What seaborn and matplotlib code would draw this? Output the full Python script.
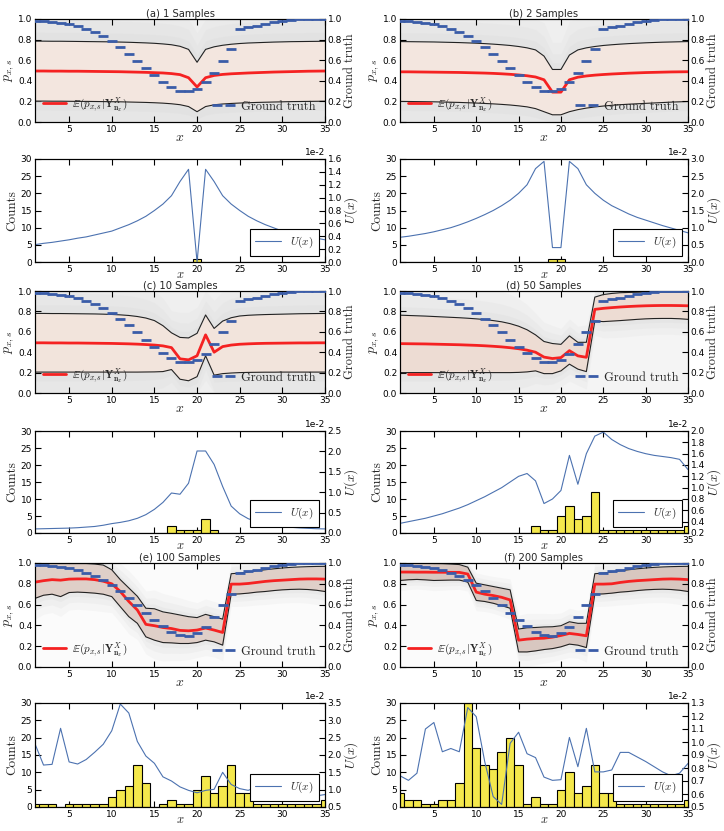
import numpy as np
import matplotlib
matplotlib.use('Agg')
import matplotlib.pyplot as plt
from matplotlib.ticker import MultipleLocator, FormatStrFormatter
from matplotlib.lines import Line2D
import seaborn as sns

xs = np.arange(1, 36)

ground_truth = [0.98, 0.98, 0.97, 0.965, 0.95, 0.93, 0.905, 0.875, 0.835, 0.785,
                0.73, 0.665, 0.595, 0.52, 0.455, 0.39, 0.34, 0.305, 0.30, 0.325,
                0.385, 0.48, 0.595, 0.705, 0.905, 0.92, 0.935, 0.95, 0.97, 0.985,
                0.99, 1.0, 1.0, 1.0, 1.0]

titles = ['(a) 1 Samples', '(b) 2 Samples', '(c) 10 Samples',
          '(d) 50 Samples', '(e) 100 Samples', '(f) 200 Samples']

# ---- panel (a)
mean_a = [0.495, 0.495, 0.494, 0.494, 0.493, 0.493, 0.492, 0.491, 0.49, 0.489, 0.488, 0.486, 0.484, 0.482, 0.479,
          0.476, 0.47, 0.46, 0.43, 0.34, 0.43, 0.452, 0.462, 0.468, 0.472, 0.476, 0.479, 0.482, 0.485, 0.487,
          0.489, 0.491, 0.493, 0.494, 0.495]
upper_a = [0.785, 0.785, 0.784, 0.784, 0.783, 0.782, 0.781, 0.78, 0.779, 0.778, 0.776, 0.774, 0.771, 0.768, 0.764,
           0.758, 0.75, 0.735, 0.705, 0.58, 0.705, 0.73, 0.745, 0.755, 0.762, 0.767, 0.77, 0.773, 0.776, 0.778,
           0.78, 0.781, 0.782, 0.783, 0.784]
lower_a = [0.203, 0.203, 0.202, 0.202, 0.201, 0.2, 0.2, 0.199, 0.198, 0.197, 0.196, 0.194, 0.192, 0.19, 0.187,
           0.183, 0.177, 0.168, 0.15, 0.1, 0.15, 0.167, 0.175, 0.18, 0.184, 0.187, 0.19, 0.192, 0.194, 0.196,
           0.198, 0.199, 0.2, 0.201, 0.202]
counts_a = [0] * 19 + [1] + [0] * 15
u_a = [0.27, 0.29, 0.305, 0.325, 0.345, 0.37, 0.39, 0.42, 0.45, 0.48, 0.53, 0.58, 0.64, 0.71, 0.8,
       0.9, 1.03, 1.25, 1.44, 0.0, 1.44, 1.25, 1.03, 0.9, 0.8, 0.71, 0.64, 0.58, 0.53, 0.48,
       0.45, 0.42, 0.39, 0.37, 0.345]

# ---- panel (b)
mean_b = [0.487, 0.487, 0.486, 0.485, 0.484, 0.483, 0.482, 0.481, 0.479, 0.477, 0.475, 0.472, 0.468, 0.463, 0.457,
          0.449, 0.437, 0.41, 0.29, 0.29, 0.41, 0.435, 0.447, 0.455, 0.461, 0.466, 0.47, 0.474, 0.477, 0.48,
          0.482, 0.484, 0.486, 0.487, 0.488]
upper_b = [0.781, 0.78, 0.779, 0.778, 0.777, 0.775, 0.773, 0.771, 0.768, 0.765, 0.761, 0.756, 0.75, 0.743, 0.733,
           0.72, 0.7, 0.64, 0.51, 0.51, 0.65, 0.7, 0.72, 0.733, 0.743, 0.75, 0.756, 0.761, 0.765, 0.769,
           0.772, 0.775, 0.777, 0.779, 0.781]
lower_b = [0.2, 0.199, 0.198, 0.197, 0.196, 0.194, 0.192, 0.19, 0.187, 0.184, 0.18, 0.176, 0.171, 0.165, 0.157,
           0.147, 0.13, 0.1, 0.07, 0.07, 0.1, 0.12, 0.135, 0.146, 0.155, 0.162, 0.168, 0.173, 0.177, 0.181,
           0.185, 0.189, 0.193, 0.196, 0.199]
counts_b = [0] * 18 + [1, 1] + [0] * 15
u_b = [0.72, 0.75, 0.79, 0.83, 0.88, 0.94, 1.0, 1.08, 1.17, 1.27, 1.38, 1.5, 1.64, 1.8, 2.0,
       2.25, 2.72, 2.93, 0.42, 0.42, 2.93, 2.72, 2.25, 2.0, 1.8, 1.64, 1.52, 1.4, 1.3, 1.22,
       1.14, 1.06, 0.99, 0.92, 0.85]

# ---- panel (c)
mean_c = [0.492, 0.492, 0.491, 0.491, 0.49, 0.49, 0.489, 0.488, 0.487, 0.486, 0.484, 0.482, 0.479, 0.475, 0.47,
          0.462, 0.445, 0.335, 0.325, 0.365, 0.57, 0.4, 0.455, 0.47, 0.478, 0.482, 0.485, 0.487, 0.488, 0.489,
          0.49, 0.491, 0.491, 0.492, 0.492]
upper_c = [0.78, 0.78, 0.779, 0.779, 0.778, 0.777, 0.776, 0.775, 0.773, 0.77, 0.766, 0.76, 0.75, 0.735, 0.71,
           0.66, 0.59, 0.545, 0.54, 0.585, 0.765, 0.633, 0.705, 0.738, 0.755, 0.762, 0.766, 0.769, 0.771, 0.773,
           0.775, 0.777, 0.778, 0.779, 0.78]
lower_c = [0.205, 0.205, 0.205, 0.205, 0.205, 0.205, 0.205, 0.205, 0.205, 0.205, 0.205, 0.205, 0.205, 0.206, 0.207,
           0.21, 0.23, 0.135, 0.12, 0.16, 0.365, 0.175, 0.19, 0.196, 0.2, 0.202, 0.203, 0.204, 0.204, 0.205,
           0.205, 0.205, 0.205, 0.205, 0.205]
counts_c = [0] * 16 + [2, 1, 1, 1, 4, 1] + [0] * 13
u_c = [0.1, 0.105, 0.11, 0.115, 0.12, 0.13, 0.145, 0.16, 0.19, 0.23, 0.26, 0.3, 0.36, 0.45, 0.58,
       0.75, 0.98, 0.95, 1.22, 2.01, 2.01, 1.68, 1.14, 0.66, 0.47, 0.35, 0.28, 0.23, 0.19, 0.16,
       0.14, 0.125, 0.115, 0.105, 0.1]

# ---- panel (d)
mean_d = [0.484, 0.483, 0.482, 0.481, 0.479, 0.477, 0.475, 0.473, 0.47, 0.467, 0.463, 0.458, 0.452, 0.444, 0.434,
          0.42, 0.4, 0.352, 0.338, 0.347, 0.415, 0.364, 0.35, 0.82, 0.83, 0.837, 0.843, 0.848, 0.852, 0.855,
          0.857, 0.858, 0.858, 0.857, 0.855]
upper_d = [0.763, 0.76, 0.757, 0.754, 0.75, 0.746, 0.742, 0.738, 0.733, 0.727, 0.72, 0.71, 0.698, 0.68, 0.655,
           0.62, 0.57, 0.505, 0.485, 0.477, 0.56, 0.497, 0.497, 0.94, 0.965, 0.976, 0.983, 0.986, 0.988, 0.99,
           0.99, 0.99, 0.99, 0.99, 0.99]
lower_d = [0.2, 0.2, 0.2, 0.2, 0.2, 0.2, 0.2, 0.2, 0.2, 0.2, 0.2, 0.2, 0.2, 0.2, 0.202,
           0.207, 0.217, 0.19, 0.19, 0.217, 0.283, 0.234, 0.21, 0.705, 0.7, 0.705, 0.71, 0.716, 0.722, 0.727,
           0.73, 0.731, 0.731, 0.728, 0.722]
counts_d = [0] * 16 + [2, 1, 1, 5, 8, 4, 5, 12] + [1] * 10 + [2]
u_d = [0.37, 0.4, 0.43, 0.46, 0.5, 0.54, 0.59, 0.64, 0.7, 0.77, 0.84, 0.92, 1.0, 1.1, 1.2,
       1.25, 1.12, 0.72, 0.8, 0.95, 1.57, 1.06, 1.6, 1.91, 1.98, 1.85, 1.76, 1.69, 1.64, 1.6,
       1.57, 1.55, 1.53, 1.5, 1.32]

# ---- panel (e)
mean_e = [0.816, 0.83, 0.84, 0.835, 0.845, 0.847, 0.847, 0.84, 0.825, 0.8, 0.726, 0.63, 0.548, 0.41, 0.397,
          0.38, 0.37, 0.352, 0.348, 0.355, 0.375, 0.355, 0.332, 0.797, 0.797, 0.803, 0.813, 0.823, 0.83, 0.835,
          0.84, 0.845, 0.847, 0.847, 0.845]
upper_e = [0.995, 0.995, 0.995, 0.995, 0.995, 0.995, 0.995, 0.99, 0.98, 0.935, 0.84, 0.76, 0.68, 0.565, 0.56,
           0.53, 0.516, 0.5, 0.484, 0.475, 0.506, 0.484, 0.46, 0.897, 0.903, 0.913, 0.926, 0.935, 0.944, 0.952,
           0.958, 0.962, 0.965, 0.967, 0.968]
lower_e = [0.66, 0.69, 0.7, 0.677, 0.716, 0.72, 0.716, 0.71, 0.7, 0.677, 0.58, 0.484, 0.42, 0.29, 0.258,
           0.235, 0.232, 0.226, 0.226, 0.235, 0.258, 0.242, 0.21, 0.7, 0.703, 0.71, 0.72, 0.726, 0.735, 0.742,
           0.746, 0.748, 0.745, 0.738, 0.726]
counts_e = [1, 1, 1, 0, 1, 1, 1, 1, 1, 3, 5, 6, 12, 7, 0, 1, 2, 1, 1, 5, 9, 4, 6, 12, 4, 4,
            1, 1, 1, 1, 1, 1, 1, 1, 2]
u_e = [2.32, 1.71, 1.73, 2.77, 1.8, 1.74, 1.87, 2.08, 2.31, 2.7, 3.47, 3.21, 2.39, 1.97, 1.76,
       1.37, 1.25, 1.08, 0.98, 0.91, 0.98, 1.01, 1.5, 1.15, 1.03, 0.98, 1.08, 1.05, 1.0, 0.95,
       0.93, 0.87, 0.84, 0.82, 0.86]

# ---- panel (f)
mean_f = [0.913, 0.913, 0.912, 0.912, 0.911, 0.911, 0.91, 0.91, 0.894, 0.72, 0.70, 0.687, 0.67, 0.645, 0.258,
          0.268, 0.274, 0.277, 0.287, 0.303, 0.323, 0.313, 0.30, 0.797, 0.797, 0.8, 0.813, 0.823, 0.83, 0.835,
          0.84, 0.845, 0.847, 0.845, 0.84]
upper_f = [0.997, 0.997, 0.997, 0.996, 0.995, 0.994, 0.99, 0.985, 0.96, 0.806, 0.79, 0.774, 0.758, 0.742, 0.365,
           0.377, 0.38, 0.385, 0.387, 0.397, 0.435, 0.42, 0.42, 0.897, 0.903, 0.913, 0.926, 0.935, 0.944, 0.952,
           0.958, 0.962, 0.965, 0.967, 0.968]
lower_f = [0.832, 0.839, 0.842, 0.838, 0.832, 0.834, 0.836, 0.836, 0.816, 0.64, 0.63, 0.613, 0.59, 0.565, 0.145,
           0.145, 0.155, 0.168, 0.177, 0.194, 0.22, 0.21, 0.187, 0.7, 0.703, 0.71, 0.72, 0.726, 0.735, 0.742,
           0.746, 0.748, 0.745, 0.738, 0.726]
counts_f = [4, 2, 2, 1, 1, 2, 2, 7, 30, 17, 12, 11, 16, 20, 12, 1, 3, 1, 1, 5, 10, 4, 6, 12, 4, 4,
            1, 1, 1, 1, 1, 1, 1, 1, 2]
u_f = [0.74, 0.705, 0.76, 1.1, 1.15, 0.925, 0.95, 0.925, 1.265, 1.195, 0.85, 0.58, 0.52, 0.99, 1.075,
       0.91, 0.88, 0.73, 0.705, 0.71, 1.035, 0.81, 1.105, 0.77, 0.77, 0.785, 0.92, 0.92, 0.885, 0.85,
       0.81, 0.77, 0.74, 0.76, 0.835]

u_limits = [(0.0, 1.6), (0.0, 3.0), (0.0, 2.5), (0.2, 2.0), (0.5, 3.5), (0.5, 1.3)]
u_steps = [0.2, 0.5, 0.5, 0.2, 0.5, 0.1]

means = [mean_a, mean_b, mean_c, mean_d, mean_e, mean_f]
uppers = [upper_a, upper_b, upper_c, upper_d, upper_e, upper_f]
lowers = [lower_a, lower_b, lower_c, lower_d, lower_e, lower_f]
counts = [counts_a, counts_b, counts_c, counts_d, counts_e, counts_f]
uvals = [u_a, u_b, u_c, u_d, u_e, u_f]

# ---- style
sns.set_style('ticks', {'xtick.direction': 'in', 'ytick.direction': 'in',
                        'axes.edgecolor': 'black', 'axes.linewidth': 1.0})
plt.rcParams.update({
    'font.family': ['DejaVu Sans'],
    'mathtext.fontset': 'cm',
    'xtick.labelsize': 6.5, 'ytick.labelsize': 6.5,
    'xtick.major.size': 4, 'ytick.major.size': 4,
    'xtick.major.width': 0.8, 'ytick.major.width': 0.8,
    'xtick.major.pad': 2.5, 'ytick.major.pad': 2.0,
    'xtick.color': 'black', 'ytick.color': 'black',
    'axes.unicode_minus': False,
})

RED = '#f52222'
BLUE = '#4C72B0'
GT_BLUE = '#3a5ca8'
YELLOW = '#f4e84c'
band_colors = ['#f3e6df', '#f3e6df', '#f2e4dc', '#eddcd3', '#dfcfc8', '#d8c7c0']
face_colors = ['#eeeeee', '#efefef', '#efefef', '#f4f4f4', '#fbfbfb', '#fbfbfb']
SERIF = 'cmr10'

fig = plt.figure(figsize=(7.24, 8.31), dpi=100)
W, H = 724.0, 831.0


def rect(l, r, t, b):
    return [l / W, 1 - b / H, (r - l) / W, (b - t) / H]


cols = [(35, 325), (400, 688)]
rows = [((19, 122), (159, 262)), ((291, 393), (431, 533)), ((563, 667), (703, 807))]

mean_label = r'$\mathbb{E}(p_{x,s}|\mathbf{Y}^{X}_{\mathbf{n}_{x}})$'

for i in range(6):
    c = i % 2
    r = i // 2
    (l, rr) = cols[c]
    (t1, b1), (t2, b2) = rows[r]
    lo = np.array(lowers[i])
    up = np.array(uppers[i])

    # ---------- top panel
    ax = fig.add_axes(rect(l, rr, t1, b1))
    ax.set_facecolor(face_colors[i])
    width = up - lo
    for k, a in [(0.6, 0.18), (0.35, 0.22), (0.15, 0.3)]:
        ax.fill_between(xs, np.clip(lo - k * width, 0, 1), np.clip(up + k * width, 0, 1),
                        color='#dcdcdc', alpha=a, lw=0, zorder=0.5)
    ax.fill_between(xs, lo, up, color=band_colors[i], lw=0, zorder=1)
    sns.lineplot(x=xs, y=up, ax=ax, color='#222222', lw=0.8, legend=False, zorder=2)
    sns.lineplot(x=xs, y=lo, ax=ax, color='#222222', lw=0.8, legend=False, zorder=2)
    sns.lineplot(x=xs, y=means[i], ax=ax, color=RED, lw=2.0, legend=False, zorder=3)
    ax.set_xlim(1, 35)
    ax.set_ylim(0, 1)
    ax.xaxis.set_major_locator(MultipleLocator(5))
    ax.yaxis.set_major_locator(MultipleLocator(0.2))
    ax.yaxis.set_major_formatter(FormatStrFormatter('%.1f'))
    ax.tick_params(top=True)
    ax.set_title(titles[i], fontsize=7.2, pad=1.5)
    ax.set_xlabel('$x$', fontsize=10, labelpad=-3)
    ax.set_ylabel('$p_{x,s}$', fontsize=10, labelpad=1)
    h_red = Line2D([], [], color=RED, lw=2.0)
    ax.legend([h_red], [mean_label], loc='lower left', frameon=False,
              prop={'size': 8}, borderaxespad=0.35, handlelength=2.0, handletextpad=0.6)

    ax2 = ax.twinx()
    ax2.plot(xs, ground_truth, ls='none', marker='_', ms=7, mew=2.0, color=GT_BLUE, zorder=4)
    ax2.set_ylim(0, 1)
    ax2.set_xlim(1, 35)
    ax2.yaxis.set_major_locator(MultipleLocator(0.2))
    ax2.yaxis.set_major_formatter(FormatStrFormatter('%.1f'))
    ax2.set_ylabel('Ground truth', family=SERIF, fontsize=9, labelpad=1)
    h_gt = Line2D([], [], ls='none', marker='_', ms=7, mew=2.0, color=GT_BLUE)
    ax2.legend([h_gt], ['Ground truth'], loc='lower right', frameon=False, numpoints=2,
               prop={'family': SERIF, 'size': 9}, borderaxespad=0.35, handlelength=1.6,
               handletextpad=0.6)

    # ---------- bottom panel
    axb = fig.add_axes(rect(l, rr, t2, b2))
    sns.histplot(x=xs, weights=counts[i], discrete=True, ax=axb, color=YELLOW,
                 edgecolor='black', alpha=1.0, linewidth=0.8)
    axb.set_xlim(1, 35)
    axb.set_ylim(0, 30)
    axb.xaxis.set_major_locator(MultipleLocator(5))
    axb.yaxis.set_major_locator(MultipleLocator(5))
    axb.tick_params(top=True)
    axb.set_ylabel('Counts', family=SERIF, fontsize=9.5, labelpad=2)
    axb.set_xlabel('$x$', fontsize=9, labelpad=-4.5)

    axb2 = axb.twinx()
    sns.lineplot(x=xs, y=np.array(uvals[i]) * 1e-2, ax=axb2, color=BLUE, lw=0.8, legend=False)
    lo_u, hi_u = u_limits[i]
    axb2.set_ylim(lo_u * 1e-2, hi_u * 1e-2)
    axb2.set_xlim(1, 35)
    axb2.yaxis.set_major_locator(MultipleLocator(u_steps[i] * 1e-2))
    axb2.ticklabel_format(axis='y', style='sci', scilimits=(0, 0))
    axb2.yaxis.get_offset_text().set_fontsize(6.5)
    axb2.set_ylabel('$U(x)$', fontsize=9.5, labelpad=0)
    h_u = Line2D([], [], color=BLUE, lw=0.8)
    leg = axb2.legend([h_u], ['$U(x)$'], loc='lower right', fancybox=False, framealpha=1,
                      edgecolor='black', prop={'size': 8}, handlelength=2.3,
                      borderaxespad=0.55, borderpad=0.5)
    leg.get_frame().set_linewidth(0.8)

fig.savefig('out.png', dpi=100)
